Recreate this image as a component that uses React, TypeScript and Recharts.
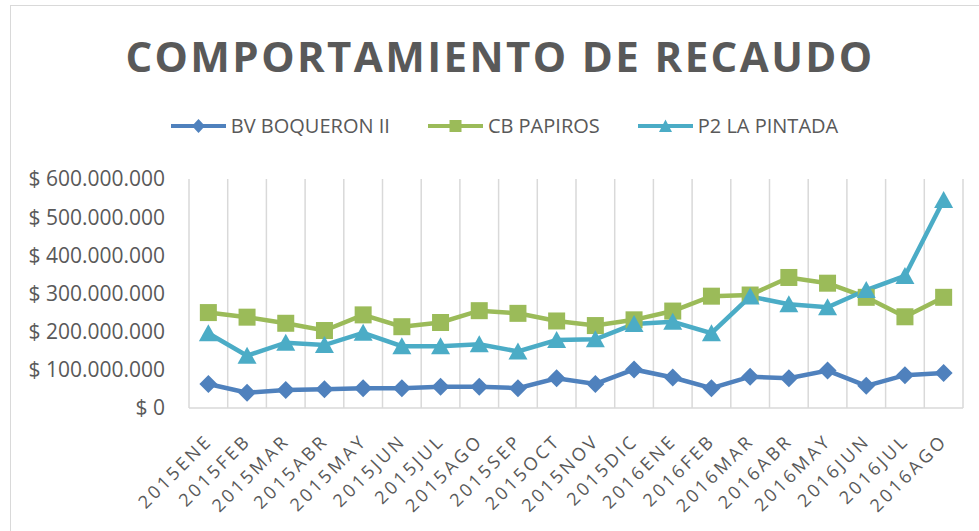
import { CartesianGrid, Line, LineChart, XAxis, YAxis } from "recharts";

const months = [
  "2015ENE", "2015FEB", "2015MAR", "2015ABR", "2015MAY", "2015JUN", "2015JUL",
  "2015AGO", "2015SEP", "2015OCT", "2015NOV", "2015DIC", "2016ENE", "2016FEB",
  "2016MAR", "2016ABR", "2016MAY", "2016JUN", "2016JUL", "2016AGO",
];

const bvBoqueron = [
  63000000, 40000000, 47000000, 49000000, 52000000, 52000000, 56000000,
  56000000, 52000000, 78000000, 63000000, 101000000, 80000000, 52000000,
  82000000, 78000000, 98000000, 58000000, 86000000, 92000000,
];

const cbPapiros = [
  250000000, 238000000, 222000000, 203000000, 244000000, 213000000, 224000000,
  255000000, 248000000, 228000000, 216000000, 231000000, 254000000, 293000000,
  296000000, 342000000, 327000000, 290000000, 239000000, 290000000,
];

const p2LaPintada = [
  196000000, 137000000, 171000000, 165000000, 197000000, 162000000, 162000000,
  167000000, 148000000, 178000000, 180000000, 220000000, 226000000, 196000000,
  292000000, 272000000, 264000000, 309000000, 346000000, 545000000,
];

const yTicks = [0, 100000000, 200000000, 300000000, 400000000, 500000000, 600000000];

const data = months.map((month, i) => ({
  month,
  bv: bvBoqueron[i],
  cb: cbPapiros[i],
  p2: p2LaPintada[i],
}));

const TEXT = "#595959";
const GRID = "#d9d9d9";
const BLUE = "#4F81BD";
const GREEN = "#9BBB59";
const TEAL = "#4BACC6";
const FONT = "'Open Sans', sans-serif";

const money = (v: number) =>
  "$ " + String(v).replace(/\B(?=(\d{3})+(?!\d))/g, ".");

// excel-style markers
const diamondDot = (p: any) => (
  <path
    key={`d-${p.index}`}
    d={`M${p.cx},${p.cy - 9}L${p.cx + 9},${p.cy}L${p.cx},${p.cy + 9}L${p.cx - 9},${p.cy}Z`}
    fill={BLUE}
  />
);

const squareDot = (p: any) => (
  <rect key={`s-${p.index}`} x={p.cx - 8.5} y={p.cy - 8.5} width={17} height={17} fill={GREEN} />
);

const triangleDot = (p: any) => (
  <path
    key={`t-${p.index}`}
    d={`M${p.cx},${p.cy - 9}L${p.cx + 9.5},${p.cy + 8}L${p.cx - 9.5},${p.cy + 8}Z`}
    fill={TEAL}
  />
);

function MonthTick({ x, y, payload }: any) {
  const tx = x + 5;
  const ty = y + 34;
  return (
    <text
      x={tx}
      y={ty}
      transform={`rotate(-45, ${tx}, ${ty})`}
      textAnchor="end"
      fill={TEXT}
      fontSize={18}
      letterSpacing={3}
      fontFamily={FONT}
    >
      {payload.value}
    </text>
  );
}

const legendItems = [
  { label: "BV BOQUERON II", color: BLUE, shape: "diamond" },
  { label: "CB PAPIROS", color: GREEN, shape: "square" },
  { label: "P2 LA PINTADA", color: TEAL, shape: "triangle" },
];

function LegendMark({ color, shape }: { color: string; shape: string }) {
  return (
    <svg width={55} height={20} style={{ display: "block" }}>
      <line x1={0} y1={10} x2={55} y2={10} stroke={color} strokeWidth={4} strokeLinecap="round" />
      {shape === "diamond" && <path d="M27.5,3L34,10L27.5,17L21,10Z" fill={color} />}
      {shape === "square" && <rect x={21.5} y={4} width={12} height={12} fill={color} />}
      {shape === "triangle" && <path d="M27.5,3.5L34,16L21,16Z" fill={color} />}
    </svg>
  );
}

export default function App() {
  return (
    <div
      style={{
        position: "absolute",
        left: 0,
        top: 0,
        width: 979,
        height: 531,
        background: "#fff",
        overflow: "hidden",
        fontFamily: FONT,
      }}
    >
      <div
        style={{
          position: "absolute",
          left: 10,
          top: 5,
          width: 985,
          height: 560,
          border: `1.5px solid ${GRID}`,
          boxSizing: "border-box",
        }}
      />
      <div
        style={{
          position: "absolute",
          left: 0,
          top: 31,
          width: 1000,
          height: 50,
          lineHeight: "50px",
          textAlign: "center",
          fontSize: 42,
          fontWeight: 700,
          letterSpacing: 2.4,
          color: TEXT,
        }}
      >
        COMPORTAMIENTO DE RECAUDO
      </div>
      <div
        style={{
          position: "absolute",
          left: 0,
          top: 114,
          width: 1009,
          height: 24,
          display: "flex",
          justifyContent: "center",
          alignItems: "center",
          gap: 38,
        }}
      >
        {legendItems.map((it) => (
          <div key={it.label} style={{ display: "flex", alignItems: "center", gap: 5 }}>
            <LegendMark color={it.color} shape={it.shape} />
            <span style={{ fontSize: 20, lineHeight: "24px", color: TEXT }}>{it.label}</span>
          </div>
        ))}
      </div>
      <div style={{ position: "absolute", left: 0, top: 0 }}>
        <LineChart
          width={979}
          height={531}
          data={data}
          margin={{ top: 179, right: 16, bottom: 0, left: 0 }}
        >
          <CartesianGrid
            horizontal={false}
            stroke={GRID}
            strokeWidth={1.5}
            verticalCoordinatesGenerator={({ offset }: any) =>
              months.concat("").map((_, i) => offset.left + (i * offset.width) / months.length)
            }
          />
          <XAxis
            dataKey="month"
            scale="band"
            interval={0}
            tickLine={false}
            tickSize={0}
            tickMargin={0}
            axisLine={{ stroke: GRID, strokeWidth: 1.5 }}
            tick={<MonthTick />}
            height={123}
          />
          <YAxis
            width={189}
            domain={[0, 600000000]}
            ticks={yTicks}
            interval={0}
            axisLine={false}
            tickLine={false}
            tickSize={0}
            tickMargin={24}
            tickFormatter={money}
            tick={{ fill: TEXT, fontSize: 21, fontFamily: FONT }}
          />
          <Line
            dataKey="bv"
            stroke={BLUE}
            strokeWidth={4.5}
            dot={diamondDot}
            activeDot={false}
            isAnimationActive={false}
          />
          <Line
            dataKey="cb"
            stroke={GREEN}
            strokeWidth={4.5}
            dot={squareDot}
            activeDot={false}
            isAnimationActive={false}
          />
          <Line
            dataKey="p2"
            stroke={TEAL}
            strokeWidth={4.5}
            dot={triangleDot}
            activeDot={false}
            isAnimationActive={false}
          />
        </LineChart>
      </div>
    </div>
  );
}
